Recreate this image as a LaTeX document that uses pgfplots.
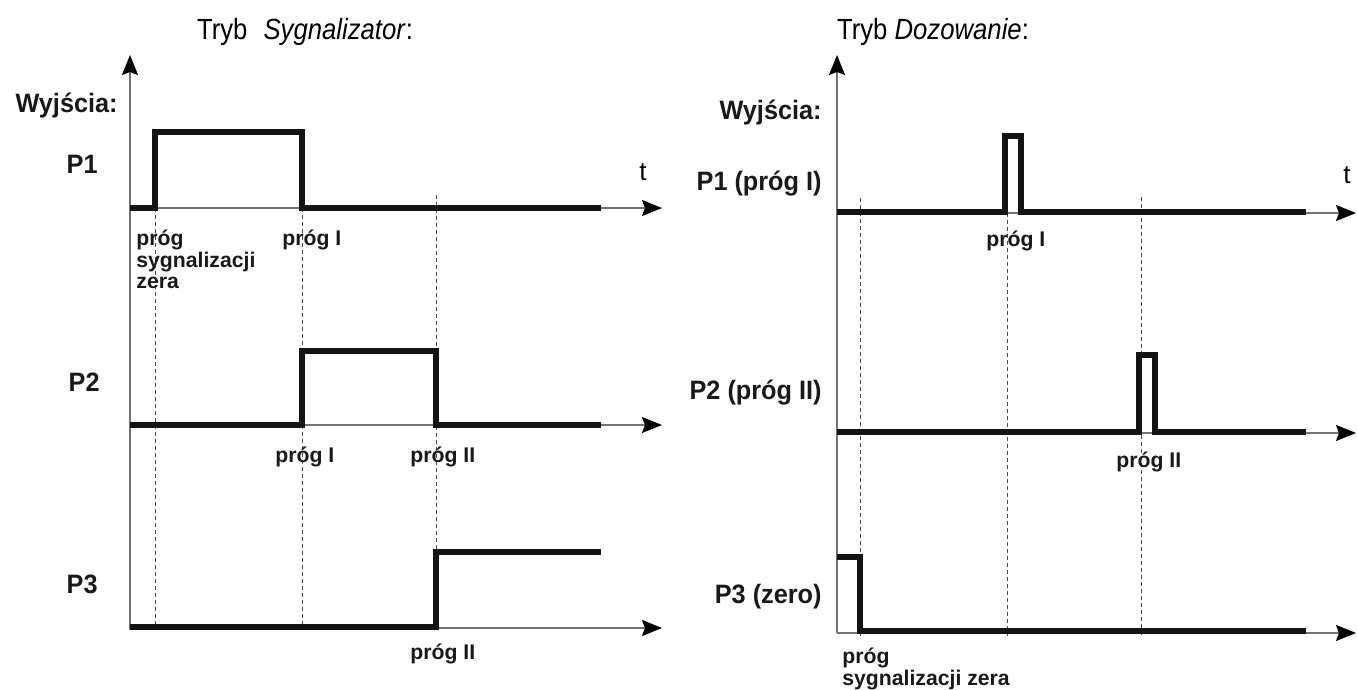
\documentclass[border=0pt]{standalone}
\usepackage{pgfplots}
\pgfplotsset{compat=1.18}
\usepackage{fontspec}
\setmainfont{Liberation Sans}
\newfontfamily\narrow[FakeStretch=0.88]{Liberation Sans}
\newfontfamily\narrowl[FakeStretch=0.95]{Liberation Sans}
\usetikzlibrary{arrows.meta}
\tikzset{
  sig/.style={black!92, line width=2.6pt, line join=miter, line cap=butt},
  ax/.style={black!55, line width=0.8pt, -{Stealth[length=10pt,width=8pt,inset=1.5pt,color=black]}},
  dl/.style={black!70, line width=0.5pt, dash pattern=on 2pt off 1.5pt},
  lab/.style={inner sep=0pt, font=\narrowl\bfseries\fontsize{13.3}{15}\selectfont, text=black!90},
  thr/.style={inner sep=0pt, font=\bfseries\fontsize{10.6}{12}\selectfont, text=black!90},
  ttl/.style={inner sep=0pt, font=\narrow\fontsize{14.6}{17}\selectfont, anchor=base},
}
\begin{document}
\begin{tikzpicture}
\begin{axis}[
  scale only axis, width=678.5pt, height=344pt,
  xmin=0, xmax=1357, ymin=0, ymax=688, y dir=reverse,
  hide axis, clip=false,
]
\addplot[draw=none, forget plot] coordinates {(0,0) (1357,688)};

% ---------- left panel: axes ----------
\addplot[ax, mark=none] coordinates {(130,630) (130,55)};
\addplot[ax, mark=none] coordinates {(130,208) (662,208)};
\addplot[ax, mark=none] coordinates {(130,425) (662,425)};
\addplot[ax, mark=none] coordinates {(130,628) (662,628)};
% dashed guides
\addplot[dl, mark=none] coordinates {(155,208) (155,630)};
\addplot[dl, mark=none] coordinates {(302,208) (302,630)};
\addplot[dl, mark=none] coordinates {(436,195) (436,630)};
% signals
\addplot[sig, mark=none] coordinates {(130,208) (155,208) (155,132) (302,132) (302,208) (601,208)};
\addplot[sig, mark=none] coordinates {(130,425) (302,425) (302,351) (436,351) (436,425) (601,425)};
\addplot[sig, mark=none] coordinates {(130,627) (436,627) (436,552) (601,552)};

% ---------- right panel: axes ----------
\addplot[ax, mark=none] coordinates {(837,633) (837,55)};
\addplot[ax, mark=none] coordinates {(837,213) (1356,213)};
\addplot[ax, mark=none] coordinates {(837,433) (1356,433)};
\addplot[ax, mark=none] coordinates {(837,633) (1356,633)};
% dashed guides
\addplot[dl, mark=none] coordinates {(860,198) (860,636)};
\addplot[dl, mark=none] coordinates {(1007,213) (1007,636)};
\addplot[dl, mark=none] coordinates {(1141,197) (1141,638)};
% signals
\addplot[sig, mark=none] coordinates {(837,212) (1005,212) (1005,136) (1021,136) (1021,212) (1306,212)};
\addplot[sig, mark=none] coordinates {(837,432) (1139,432) (1139,355) (1155,355) (1155,432) (1306,432)};
\addplot[sig, mark=none] coordinates {(837,557) (860,557) (860,631) (1306,631)};

% ---------- texts ----------
\node[ttl] at (axis cs:305,39) {Tryb\hspace{0.55em}\textit{Sygnalizator}:};
\node[ttl] at (axis cs:933,39) {Tryb \textit{Dozowanie}:};

\node[lab, anchor=base east] at (axis cs:118,112) {Wyjścia:};
\node[lab, anchor=base east] at (axis cs:98,173) {P1};
\node[lab, anchor=base east] at (axis cs:100,391) {P2};
\node[lab, anchor=base east] at (axis cs:98,593) {P3};

\node[lab, anchor=base east] at (axis cs:822,119) {Wyjścia:};
\node[lab, anchor=base east] at (axis cs:822,190) {P1 (próg I)};
\node[lab, anchor=base east] at (axis cs:822,399) {P2 (próg II)};
\node[lab, anchor=base east] at (axis cs:822,603) {P3 (zero)};

\node[inner sep=0pt, anchor=base west, font=\fontsize{13}{15}\selectfont] at (axis cs:639,180) {t};
\node[inner sep=0pt, anchor=base west, font=\fontsize{13}{15}\selectfont] at (axis cs:1343,183) {t};

\node[thr, anchor=base west] at (axis cs:136,245) {próg};
\node[thr, anchor=base west] at (axis cs:136,267) {sygnalizacji};
\node[thr, anchor=base west] at (axis cs:136,288) {zera};
\node[thr, anchor=base west] at (axis cs:282,245) {próg I};
\node[thr, anchor=base west] at (axis cs:275,462) {próg I};
\node[thr, anchor=base west] at (axis cs:410,462) {próg II};
\node[thr, anchor=base west] at (axis cs:410,659) {próg II};

\node[thr, anchor=base west] at (axis cs:986,246) {próg I};
\node[thr, anchor=base west] at (axis cs:1116,467) {próg II};
\node[thr, anchor=base west] at (axis cs:842,663) {próg};
\node[thr, anchor=base west] at (axis cs:842,685) {sygnalizacji zera};
\end{axis}
\end{tikzpicture}
\end{document}
